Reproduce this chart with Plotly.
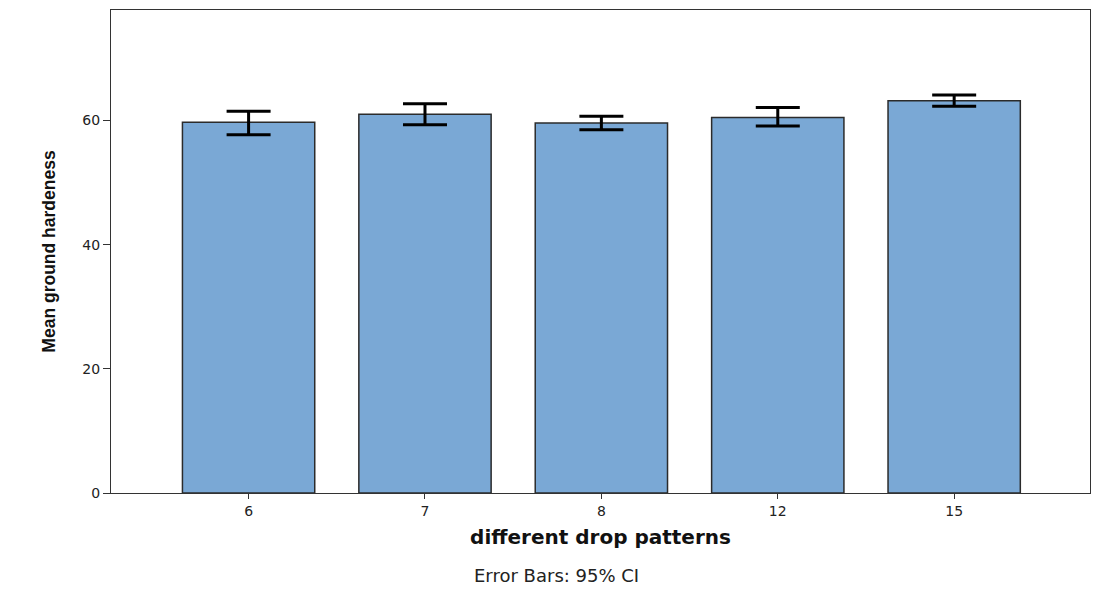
import plotly.graph_objects as go

categories = ["6", "7", "8", "12", "15"]
means = [59.7, 61.0, 59.6, 60.5, 63.2]
ci_upper = [61.5, 62.7, 60.7, 62.1, 64.1]
ci_lower = [57.7, 59.3, 58.5, 59.1, 62.3]
y_ticks = [0, 20, 40, 60]

err_plus = [u - m for u, m in zip(ci_upper, means)]
err_minus = [m - l for m, l in zip(means, ci_lower)]

fig = go.Figure()
fig.add_trace(go.Bar(
    x=categories, y=means, width=0.75,
    marker=dict(color="#7AA8D5", line=dict(color="#2b2b2b", width=1.5)),
    error_y=dict(type="data", symmetric=False, array=err_plus, arrayminus=err_minus,
                 color="black", thickness=3, width=22),
    showlegend=False,
))

tick_font = dict(size=14, family="DejaVu Sans, Verdana, sans-serif", color="#222222")

fig.update_layout(
    width=1098, height=590,
    margin=dict(l=111, r=8, t=10, b=97),
    plot_bgcolor="white", paper_bgcolor="white",
    font=dict(family="DejaVu Sans, sans-serif", color="#222222"),
    xaxis=dict(
        type="category", range=[-0.78, 4.77],
        showline=True, linecolor="#333333", linewidth=1.2, mirror=True,
        ticks="outside", ticklen=5, tickcolor="#333333", tickwidth=1,
        tickfont=tick_font,
        showgrid=False,
        title=dict(text="different drop patterns", standoff=12,
                   font=dict(family="DejaVu Sans, Verdana, sans-serif", size=20, color="#111111", weight="bold")),
    ),
    yaxis=dict(
        range=[0, 77.8], tickvals=y_ticks,
        showline=True, linecolor="#333333", linewidth=1.2, mirror=True,
        ticks="outside", ticklen=7, tickcolor="#333333", tickwidth=1,
        tickfont=tick_font,
        showgrid=False, zeroline=False,
        title=dict(text="Mean ground hardeness", standoff=22,
                   font=dict(family="Liberation Sans, Arial, sans-serif", size=17.5, color="#111111", weight="bold")),
    ),
    annotations=[dict(
        text="Error Bars: 95% CI", xref="paper", yref="paper",
        x=(556 - 111) / 979, y=-(575 - 493) / 483, xanchor="center", yanchor="middle",
        showarrow=False, font=dict(size=18, family="DejaVu Sans, sans-serif", color="#222222"),
    )],
)

fig.write_html("out.html", config={"displayModeBar": False},
               post_script="document.body.style.margin='0';document.body.style.overflow='hidden';")
